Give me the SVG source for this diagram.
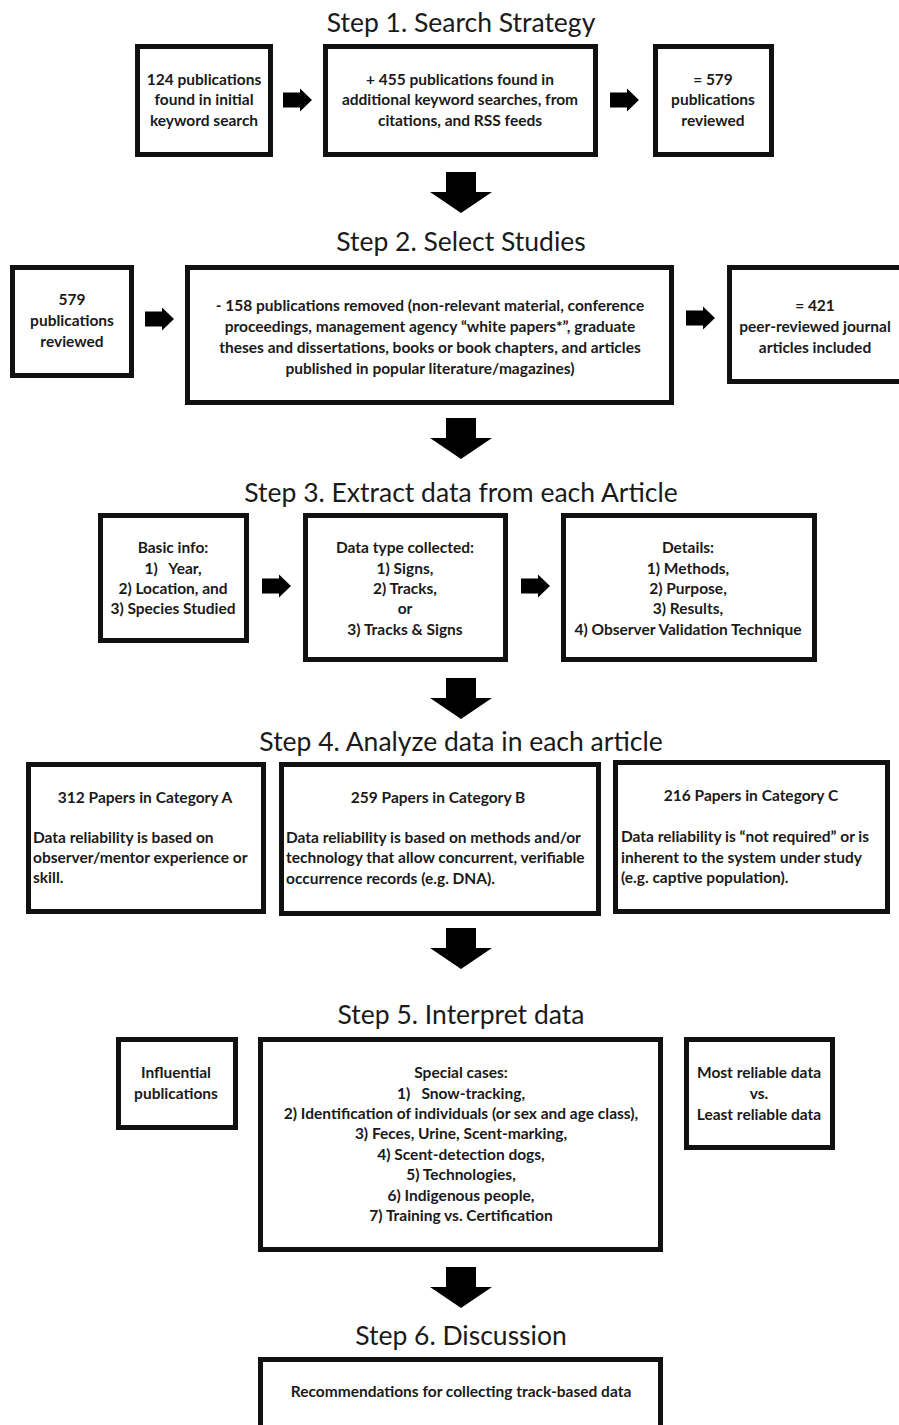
<svg xmlns="http://www.w3.org/2000/svg" width="899" height="1425" viewBox="0 0 899 1425">
<style>
.bg{fill:#fff}
.box{fill:#fff;stroke:#111;stroke-width:5}
.title{font-family:Lato,"Liberation Sans",sans-serif;font-size:26.5px;fill:#1a1a1a;text-anchor:middle}
.t{font-family:Lato,"Liberation Sans",sans-serif;font-size:15.5px;font-weight:bold;fill:#1a1a1a;text-anchor:middle}
.l{font-family:Lato,"Liberation Sans",sans-serif;font-size:15.5px;font-weight:bold;fill:#1a1a1a}
.arr{fill:#000}
</style>
<defs>
<path id="down" d="M-15,0 H15 V20 H31 L0,41 L-31,20 H-15 Z"/>
<path id="right" d="M0,-7.5 H17 V-11.5 L29,0 L17,11.5 V7.5 H0 Z"/>
</defs>
<rect class="bg" x="0" y="0" width="899" height="1425"/>

<g id="titles">
<text class="title" x="461" y="32">Step 1. Search Strategy</text>
<text class="title" x="461" y="251">Step 2. Select Studies</text>
<text class="title" x="461" y="502">Step 3. Extract data from each Article</text>
<text class="title" x="461" y="751">Step 4. Analyze data in each article</text>
<text class="title" x="461" y="1024">Step 5. Interpret data</text>
<text class="title" x="461" y="1345">Step 6. Discussion</text>
</g>

<g id="connectors">
<use href="#right" class="arr" x="283" y="100"/>
<use href="#right" class="arr" x="610" y="100"/>
<use href="#down" class="arr" x="461" y="172"/>
<use href="#right" class="arr" x="145" y="319"/>
<use href="#right" class="arr" x="686" y="318"/>
<use href="#down" class="arr" x="461" y="418"/>
<use href="#right" class="arr" x="262" y="586"/>
<use href="#right" class="arr" x="521" y="586"/>
<use href="#down" class="arr" x="461" y="678"/>
<use href="#down" class="arr" x="461" y="928"/>
<use href="#down" class="arr" x="461" y="1267"/>
</g>

<g id="s1a"><rect class="box" x="137.5" y="46.5" width="133" height="108"/>
<text class="t" x="204" y="85">124 publications</text>
<text class="t" x="204" y="105">found in initial</text>
<text class="t" x="204" y="126">keyword search</text></g>

<g id="s1b"><rect class="box" x="325.5" y="46.5" width="270" height="108"/>
<text class="t" x="460" y="85">+ 455 publications found in</text>
<text class="t" x="460" y="105">additional keyword searches, from</text>
<text class="t" x="460" y="126">citations, and RSS feeds</text></g>

<g id="s1c"><rect class="box" x="655.5" y="46.5" width="116" height="108"/>
<text class="t" x="713" y="85">= 579</text>
<text class="t" x="713" y="105">publications</text>
<text class="t" x="713" y="126">reviewed</text></g>

<g id="s2a"><rect class="box" x="12.5" y="267.5" width="119" height="108"/>
<text class="t" x="72" y="305">579</text>
<text class="t" x="72" y="326">publications</text>
<text class="t" x="72" y="347">reviewed</text></g>

<g id="s2b"><rect class="box" x="187.5" y="267.5" width="484" height="135"/>
<text class="t" x="430" y="311">- 158 publications removed (non-relevant material, conference</text>
<text class="t" x="430" y="332">proceedings, management agency “white papers*”, graduate</text>
<text class="t" x="430" y="353">theses and dissertations, books or book chapters, and articles</text>
<text class="t" x="430" y="374">published in popular literature/magazines)</text></g>

<g id="s2c"><rect class="box" x="729.5" y="267.5" width="180" height="114"/>
<text class="t" x="815" y="311">= 421</text>
<text class="t" x="815" y="332">peer-reviewed journal</text>
<text class="t" x="815" y="353">articles included</text></g>

<g id="s3a"><rect class="box" x="100.5" y="515.5" width="146" height="125"/>
<text class="t" x="173" y="553">Basic info:</text>
<text class="t" x="173" y="574" xml:space="preserve">1)   Year,</text>
<text class="t" x="173" y="594">2) Location, and</text>
<text class="t" x="173" y="614">3) Species Studied</text></g>

<g id="s3b"><rect class="box" x="305.5" y="515.5" width="200" height="144"/>
<text class="t" x="405" y="553">Data type collected:</text>
<text class="t" x="405" y="574">1) Signs,</text>
<text class="t" x="405" y="594">2) Tracks,</text>
<text class="t" x="405" y="614">or</text>
<text class="t" x="405" y="635">3) Tracks &amp; Signs</text></g>

<g id="s3c"><rect class="box" x="563.5" y="515.5" width="251" height="144"/>
<text class="t" x="688" y="553">Details:</text>
<text class="t" x="688" y="574">1) Methods,</text>
<text class="t" x="688" y="594">2) Purpose,</text>
<text class="t" x="688" y="614">3) Results,</text>
<text class="t" x="688" y="635">4) Observer Validation Technique</text></g>

<g id="s4a"><rect class="box" x="28.5" y="764.5" width="235" height="147"/>
<text class="t" x="145" y="803">312 Papers in Category A</text>
<text class="l" x="33" y="843">Data reliability is based on</text>
<text class="l" x="33" y="863">observer/mentor experience or</text>
<text class="l" x="33" y="883">skill.</text></g>

<g id="s4b"><rect class="box" x="281.5" y="764.5" width="317" height="149"/>
<text class="t" x="438" y="803">259 Papers in Category B</text>
<text class="l" x="286" y="843">Data reliability is based on methods and/or</text>
<text class="l" x="286" y="863">technology that allow concurrent, verifiable</text>
<text class="l" x="286" y="884">occurrence records (e.g. DNA).</text></g>

<g id="s4c"><rect class="box" x="615.5" y="762.5" width="272" height="149"/>
<text class="t" x="751" y="801">216 Papers in Category C</text>
<text class="l" x="621" y="842">Data reliability is “not required” or is</text>
<text class="l" x="621" y="863">inherent to the system under study</text>
<text class="l" x="621" y="883">(e.g. captive population).</text></g>

<g id="s5a"><rect class="box" x="118.5" y="1039.5" width="117" height="88"/>
<text class="t" x="176" y="1078">Influential</text>
<text class="t" x="176" y="1099">publications</text></g>

<g id="s5b"><rect class="box" x="260.5" y="1039.5" width="400" height="210"/>
<text class="t" x="461" y="1078">Special cases:</text>
<text class="t" x="461" y="1099" xml:space="preserve">1)   Snow-tracking,</text>
<text class="t" x="461" y="1119">2) Identification of individuals (or sex and age class),</text>
<text class="t" x="461" y="1139">3) Feces, Urine, Scent-marking,</text>
<text class="t" x="461" y="1160">4) Scent-detection dogs,</text>
<text class="t" x="461" y="1180">5) Technologies,</text>
<text class="t" x="461" y="1201">6) Indigenous people,</text>
<text class="t" x="461" y="1221">7) Training vs. Certification</text></g>

<g id="s5c"><rect class="box" x="686.5" y="1039.5" width="146" height="108"/>
<text class="t" x="759" y="1078">Most reliable data</text>
<text class="t" x="759" y="1099">vs.</text>
<text class="t" x="759" y="1120">Least reliable data</text></g>

<g id="s6"><rect class="box" x="260.5" y="1359.5" width="400" height="80"/>
<text class="t" x="461" y="1397">Recommendations for collecting track-based data</text></g>
</svg>
